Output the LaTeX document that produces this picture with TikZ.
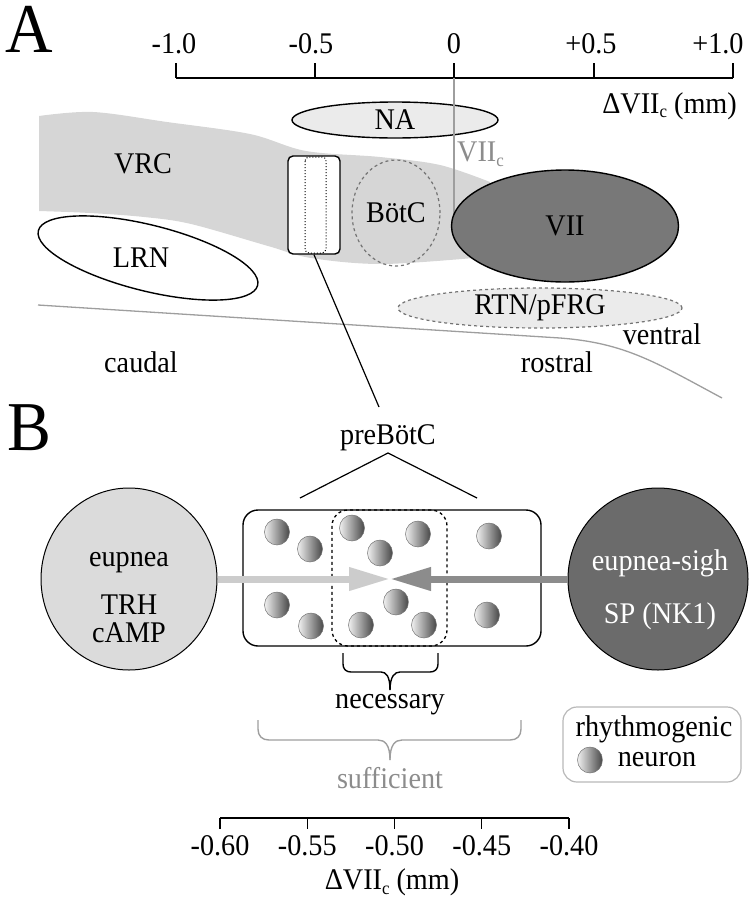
\documentclass[tikz,border=0pt]{standalone}
\usepackage{fontspec}
\setmainfont{Liberation Serif}[FakeStretch=0.94]
\usetikzlibrary{shapes.geometric,arrows.meta}
\definecolor{vrcgray}{gray}{0.84}
\definecolor{nagray}{gray}{0.92}
\definecolor{viigray}{gray}{0.47}
\definecolor{eupgray}{gray}{0.86}
\definecolor{sighgray}{gray}{0.42}
\definecolor{ltarrow}{gray}{0.80}
\definecolor{dkarrow}{gray}{0.55}
\definecolor{linegray}{gray}{0.62}
\definecolor{txtgray}{gray}{0.55}
\definecolor{dashgray}{gray}{0.45}
\definecolor{legendgray}{gray}{0.72}
\newcommand\subc{\raisebox{-0.35ex}{\fontsize{18}{18}\selectfont c}}
\begin{document}
\begin{tikzpicture}[x=1pt,y=-1pt,
  lab/.style={font=\fontsize{30}{32}\selectfont, inner sep=0pt},
  biglab/.style={font=\fontsize{70}{70}\selectfont, inner sep=0pt},
  blk/.style={line width=1.4pt},
  region/.style={ellipse, inner sep=0pt, font=\fontsize{30}{32}\selectfont},
  neuron/.style={ellipse, minimum width=25pt, minimum height=26pt, inner sep=0pt, draw=black!55, line width=0.5pt, left color=gray!12, right color=black!72},
  larrow/.style={line width=7pt, draw=ltarrow, -{Triangle[length=41pt,width=22pt,fill=ltarrow]}},
  darrow/.style={line width=7pt, draw=dkarrow, -{Triangle[length=41pt,width=22pt,fill=dkarrow]}},
  bracestyle/.style={line width=1.4pt}
]
\useasboundingbox (0,0) rectangle (748,900);

% ---------- Panel A ----------
\node[biglab, anchor=base] (labA) at (29,52) {A};

% top axis
\draw[blk] (176,78) -- (733,78);
\foreach \x in {176,315,454,594,733}
  \draw[blk] (\x,63) -- (\x,78);
\node[lab, anchor=base] (ta1) at (174,53) {-1.0};
\node[lab, anchor=base] (ta2) at (311,53) {-0.5};
\node[lab, anchor=base] (ta3) at (454,53) {0};
\node[lab, anchor=base] (ta4) at (591,53) {+0.5};
\node[lab, anchor=base] (ta5) at (718,53) {+1.0};
\node[lab, anchor=base east] (taxis) at (737,113) {ΔVII\subc\ (mm)};

% VRC band
\fill[vrcgray] plot[smooth, tension=0.55] coordinates {(39,116) (93,112) (167,122) (250,134) (306,151) (380,157) (440,165) (490,182)}
  -- (505,220) --
  plot[smooth, tension=0.55] coordinates {(485,257) (383,264) (311,258) (268,246) (191,224) (144,217) (90,213) (39,211)} -- cycle;
\node[lab] (vrc) at (143,164) {VRC};

% NA
\node[region, draw, blk, fill=nagray, minimum width=206pt, minimum height=36pt] (na) at (395,120) {NA};

% BotC
\node[region, draw=dashgray, dashed, line width=1.2pt, minimum width=88pt, minimum height=106pt] (botc) at (396,213) {BötC};

% VII_c reference line
\draw[linegray, line width=1.2pt] (454,78) -- (454,226);
\node[lab, text=txtgray, anchor=west] (viic) at (457,154) {VII\subc};

% VII
\node[region, draw, blk, fill=viigray, minimum width=227pt, minimum height=112pt] (vii) at (565,226) {VII};

% LRN
\draw[blk] [rotate around={-14:(148,258)}] (148,258) ellipse [x radius=113, y radius=33];
\node[lab] (lrn) at (141,258) {LRN};

% RTN/pFRG
\node[region, draw=dashgray, dashed, line width=1.2pt, fill=nagray, minimum width=284pt, minimum height=40pt] (rtn) at (540,308) {RTN/pFRG};

% preBotC slab
\node[draw, blk, fill=white, rounded corners=5pt, minimum width=52pt, minimum height=98pt, inner sep=0pt] (slab) at (314,205) {};
\draw[dotted, line width=1pt, rounded corners=4pt] (305,157) rectangle (326,253);

% ventral surface
\draw[linegray, line width=1.3pt] (38,305) -- (560,338) .. controls (625,343) and (655,362) .. (722,398);
\node[lab] (ventral) at (662,334) {ventral};
\node[lab] (rostral) at (557,362) {rostral};
\node[lab] (caudal) at (141,362) {caudal};

% connector to panel B
\coordinate (zoomend) at (379,407);
\draw[line width=1.2pt] (slab.south) -- (zoomend);

% ---------- Panel B ----------
\node[biglab, anchor=base] (labB) at (29,450) {B};
\node[lab] (pblab) at (388,438) {preBötC};
\draw[line width=1.2pt] (300,498) -- (388,453) -- (477,498);

% box
\node[draw, blk, rounded corners=15pt, minimum width=298pt, minimum height=136pt, inner sep=0pt] (box) at (392,578) {};
\node[draw, dashed, line width=1.3pt, rounded corners=16pt, minimum width=115pt, minimum height=136pt, inner sep=0pt] (core) at (389.5,578) {};

% neurons
\node[neuron] (n1) at (277,532) {};
\node[neuron] (n2) at (310,549) {};
\node[neuron] (n3) at (352,528) {};
\node[neuron] (n4) at (380,553) {};
\node[neuron] (n5) at (418,534) {};
\node[neuron] (n6) at (489,536) {};
\node[neuron] (n7) at (277,605) {};
\node[neuron] (n8) at (311,626) {};
\node[neuron] (n9) at (361,625) {};
\node[neuron] (n10) at (396,602) {};
\node[neuron] (n11) at (424,625) {};
\node[neuron] (n12) at (487,615) {};

% side circles
\node[ellipse, draw, line width=1pt, fill=eupgray, minimum width=176pt, minimum height=182pt, inner sep=0pt] (eup) at (129,579) {};
\node[lab] (t1) at (129,563) {eupnea};
\node[lab] (t2) at (129,605) {TRH};
\node[lab] (t3) at (129,633) {cAMP};

\node[ellipse, draw, line width=1pt, fill=sighgray, minimum width=180pt, minimum height=182pt, inner sep=0pt] (sigh) at (658,579) {};
\node[lab, text=white] (t4) at (660,563) {eupnea-sigh};
\node[lab, text=white] (t5) at (660,616) {SP (NK1)};

% arrows
\coordinate (tip) at (390,579);
\draw[larrow] (eup.east) -- (tip);
\draw[darrow] (sigh.west) -- (tip);

% necessary brace
\draw[bracestyle] (343,653) -- (343,664) .. controls (343,669) and (346,672) .. (351,672) -- (381,672) .. controls (386,672) and (390,676) .. (390,690);
\draw[bracestyle] (438,653) -- (438,664) .. controls (438,669) and (435,672) .. (430,672) -- (400,672) .. controls (395,672) and (390,676) .. (390,690);
\node[lab] (necessary) at (390,705) {necessary};

% sufficient brace
\draw[bracestyle, linegray] (258,720) -- (258,729) .. controls (258,736) and (262,740) .. (269,740) -- (378,740) .. controls (385,740) and (390,745) .. (390,760);
\draw[bracestyle, linegray] (521,720) -- (521,729) .. controls (521,736) and (517,740) .. (510,740) -- (402,740) .. controls (395,740) and (390,745) .. (390,760);
\node[lab, text=txtgray] (sufficient) at (390,778) {sufficient};

% legend
\node[draw=legendgray, line width=1.2pt, rounded corners=14pt, minimum width=178pt, minimum height=75pt, inner sep=0pt] (legend) at (652,744.5) {};
\node[lab] (lg1) at (654,729) {rhythmogenic};
\node[neuron] (lgn) at (590,760) {};
\node[lab] (lg2) at (657,760) {neuron};

% bottom axis
\draw[blk] (220,818) -- (569,818);
\foreach \x in {220,307.25,394.5,481.75,569}
  \draw[blk] (\x,818) -- (\x,829);
\node[lab] (b1) at (220,846) {-0.60};
\node[lab] (b2) at (307.25,846) {-0.55};
\node[lab] (b3) at (394.5,846) {-0.50};
\node[lab] (b4) at (481.75,846) {-0.45};
\node[lab] (b5) at (569,846) {-0.40};
\node[lab] (baxis) at (392,882) {ΔVII\subc\ (mm)};
\end{tikzpicture}
\end{document}
